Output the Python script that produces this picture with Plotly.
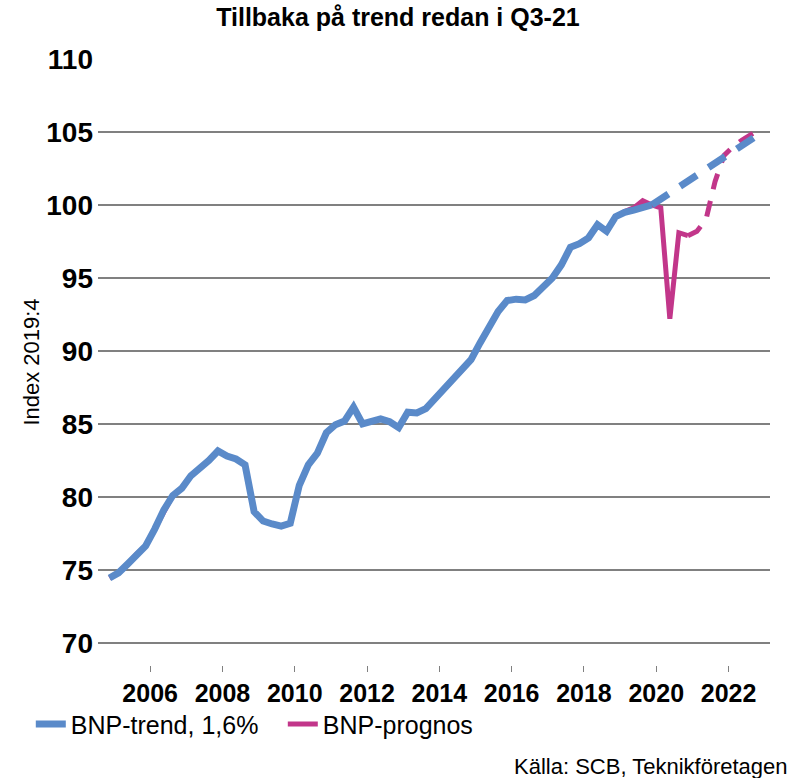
import plotly.graph_objects as go

# Quarterly categories 2004Q4 .. 2022Q4
quarters = ["2004Q4"] + [f"{y}Q{q}" for y in range(2005, 2023) for q in range(1, 5)]

# Historical GDP index (2019:4 = 100), 2004Q4 .. 2020Q4
bnp_utfall = [
    74.45, 74.8, 75.4, 76.1, 76.65, 77.8, 79.1, 80.1, 80.6, 81.45,
    81.95, 82.5, 83.15, 82.8, 82.6, 82.2, 79.0, 78.35, 78.15, 78.0,
    78.2, 80.8, 82.2, 83.0, 84.4, 84.95, 85.2, 86.15, 85.0, 85.2,
    85.35, 85.15, 84.75, 85.8, 85.75, 86.05, 86.7, 87.3, 87.95, 88.7,
    89.4, 90.55, 91.55, 92.7, 93.45, 93.55, 93.5, 93.8, 94.4, 95.0,
    95.9, 97.1, 97.35, 97.75, 98.65, 98.2, 99.2, 99.55, 99.8, 100.3,
    100.0, 99.8, 92.2, 98.1, 97.9,
]
# GDP forecast, 2020Q4 .. 2022Q4
bnp_prognos = [97.9, 98.2, 99.0, 101.6, 103.4, 104.0, 104.45, 104.85, 105.2]

# Trend series: last historical quarters (2019Q1 .. 2019Q4) and trend 2019Q4 .. 2022Q4
trend_tail = [99.5, 99.65, 99.85, 100.0]
trend_prognos = [100.0, 100.4, 100.8, 101.2, 101.6, 102.0, 102.4, 102.8,
                 103.2, 103.65, 104.05, 104.45, 104.9]

tick_years = [2006, 2008, 2010, 2012, 2014, 2016, 2018, 2020, 2022]
y_ticks = [70, 75, 80, 85, 90, 95, 100, 105, 110]


def qx(label):
    return int(label[:4]) + (int(label[-1]) - 1) / 4


x_all = [qx(q) for q in quarters]
n_hist = len(bnp_utfall)
x_hist = x_all[:n_hist]
x_prog = x_all[n_hist - 1:]
n_shared = len(x_all) - len(trend_prognos) - len(trend_tail) + 1
trend_hist = bnp_utfall[:n_shared] + trend_tail
x_trend_hist = x_all[: len(trend_hist)]
x_trend_prog = x_all[len(trend_hist) - 1:]

BLUE = "#5A8AC9"
MAGENTA = "#C2368A"
FONT = "Liberation Sans, Arial, sans-serif"

fig = go.Figure()
fig.add_trace(go.Scatter(x=x_hist, y=bnp_utfall, mode="lines", name="BNP-prognos",
                         line=dict(color=MAGENTA, width=5), legendrank=2,
                         legendgroup="p", hoverinfo="skip"))
fig.add_trace(go.Scatter(x=x_prog, y=bnp_prognos, mode="lines", name="BNP-prognos",
                         line=dict(color=MAGENTA, width=5, dash="16px,12px"),
                         showlegend=False, legendgroup="p", hoverinfo="skip"))
fig.add_trace(go.Scatter(x=x_trend_hist, y=trend_hist, mode="lines", name="BNP-trend, 1,6%",
                         line=dict(color=BLUE, width=7), legendrank=1,
                         legendgroup="t", hoverinfo="skip"))
fig.add_trace(go.Scatter(x=x_trend_prog, y=trend_prognos, mode="lines", name="BNP-trend, 1,6%",
                         line=dict(color=BLUE, width=7, dash="20px,14px"),
                         showlegend=False, legendgroup="t", hoverinfo="skip"))

fig.update_layout(
    width=804, height=778,
    margin=dict(l=98, r=34, t=59, b=113),
    paper_bgcolor="white", plot_bgcolor="white",
    font=dict(family=FONT, color="black"),
    title=dict(text="<b>Tillbaka på trend redan i Q3-21</b>", x=0.495, xanchor="center",
               y=0.978, yanchor="middle", font=dict(size=25, family=FONT)),
    showlegend=True,
    legend=dict(orientation="h", x=-0.1, xanchor="left", y=-0.06, yanchor="top",
                font=dict(size=25, family=FONT), itemwidth=30, tracegroupgap=0,
                entrywidth=207, bgcolor="rgba(0,0,0,0)"),
    annotations=[dict(text="Källa: SCB, Teknikföretagen", xref="paper", yref="paper",
                      x=1.03, y=-0.167, xanchor="right", yanchor="middle", showarrow=False,
                      font=dict(size=22, family=FONT))],
)

fig.update_xaxes(
    range=[2004.432, 2023.021],
    tickvals=[y - 0.125 for y in tick_years], ticktext=[str(y) for y in tick_years],
    ticks="outside", ticklen=6, tickwidth=1, tickcolor="#808080",
    showgrid=False, zeroline=False, showline=False,
    tickfont=dict(size=25, family=FONT, weight="bold"),
)
fig.update_yaxes(
    range=[68.49, 110.0],
    tickvals=y_ticks, ticktext=[str(v) for v in y_ticks],
    showgrid=True, gridcolor="#808080", gridwidth=2, zeroline=False, showline=False,
    ticks="", ticklen=0, ticklabelstandoff=4,
    tickfont=dict(size=28, family=FONT, weight="bold"),
    title=dict(text="Index 2019:4", font=dict(size=22, family=FONT), standoff=0),
)

fig.write_html("out.html", config={"displayModeBar": False},
               post_script="document.body.style.margin='0';")
